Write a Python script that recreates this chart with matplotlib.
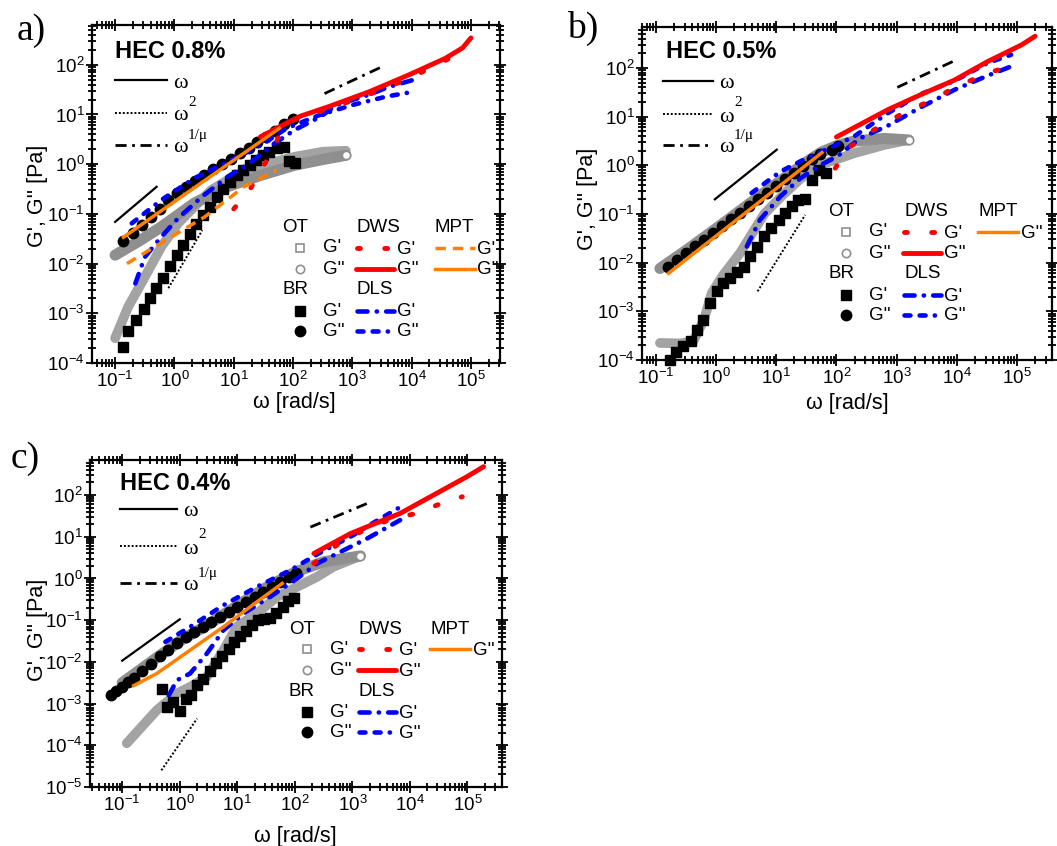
import numpy as np
import matplotlib
matplotlib.use("Agg")
import matplotlib.pyplot as plt
from matplotlib.lines import Line2D
from matplotlib.ticker import LogLocator, FixedLocator, NullFormatter

plt.rcParams['font.family'] = ['Liberation Sans', 'DejaVu Sans']
plt.rcParams['mathtext.fontset'] = 'custom'
plt.rcParams['mathtext.rm'] = 'Liberation Sans'
plt.rcParams['mathtext.it'] = 'Liberation Sans:italic'

W, H = 1057, 846

# ---------------- a) HEC 0.8% ----------------
a_ot_gp_w = [0.1, 0.166, 0.316, 0.603, 1.15, 2.19, 4.17, 7.94, 20.0, 50.1, 107, 316, 776]
a_ot_gp = [3.16e-4, 1.35e-3, 5.37e-3, 0.0219, 0.0646, 0.141, 0.302, 0.479, 0.794, 1.12, 1.41, 1.78, 1.86]
a_ot_gpp_w = [0.1, 0.251, 0.603, 2.19, 7.94, 29.5, 107, 339, 776]
a_ot_gpp = [0.0148, 0.0282, 0.055, 0.166, 0.355, 0.603, 0.955, 1.26, 1.51]
a_br_gp_w = [0.138, 0.166, 0.224, 0.302, 0.380, 0.490, 0.646, 0.832, 1.10, 1.41, 1.82, 2.34, 3.02, 3.98,
             5.13, 6.61, 8.51, 11.2, 14.5, 18.6, 24.0, 30.9, 39.8, 53.7, 69.2, 87.1, 107]
a_br_gp = [2.14e-4, 4.37e-4, 7.24e-4, 1.20e-3, 2.0e-3, 3.16e-3, 5.13e-3, 8.91e-3, 0.0148, 0.0234, 0.0389,
           0.0631, 0.0955, 0.138, 0.219, 0.316, 0.447, 0.603, 0.759, 0.955, 1.20, 1.55, 1.78, 2.09, 2.19, 1.17, 1.07]
a_br_gpp_w = [0.138, 0.2, 0.282, 0.398, 0.562, 0.794, 1.12, 1.58, 2.24, 3.16, 4.47, 6.31, 8.91, 12.6,
              17.8, 25.1, 35.5, 50.1, 70.8, 100]
a_br_gpp = [0.0282, 0.0417, 0.0603, 0.0871, 0.126, 0.186, 0.263, 0.355, 0.468, 0.617, 0.794, 1.0, 1.29,
            1.66, 2.14, 2.75, 3.55, 4.68, 6.31, 7.94]
a_mpt_gp_w = [0.158, 3.24, 15.1, 52.5]
a_mpt_gp = [0.01, 0.0871, 0.355, 0.759]
a_mpt_gpp_w = [0.138, 3.02, 58.9]
a_mpt_gpp = [0.0339, 0.443, 5.25]
a_dws_gp_w = [10, 18.6, 29.5, 45.7, 63.1, 100, 316, 1000, 3162, 10000, 31623, 51300, 100000]
a_dws_gp = [0.126, 0.302, 0.832, 1.78, 5.01, 7.59, 12.0, 19.1, 31.6, 56.2, 112, 148, 126]
a_dws_gpp_w = [28.2, 52.5, 129, 407, 1950, 9120, 37150, 72440, 100000]
a_dws_gpp = [3.55, 5.25, 9.12, 14.5, 28.8, 63.1, 135, 219, 347]
a_dls_gp_w = [0.219, 0.316, 0.603, 1.15, 2.88, 7.94, 20.0, 49.0, 107, 295, 537, 1950, 3981, 10965]
a_dls_gp = [3.98e-3, 0.0135, 0.0347, 0.0813, 0.219, 0.562, 1.12, 2.63, 4.90, 9.12, 15.5, 25.1, 35.5, 50.1]
a_dls_gpp_w = [0.191, 0.603, 2.19, 7.94, 29.5, 77.6, 282, 1000, 3715, 10965]
a_dls_gpp = [0.0646, 0.191, 0.525, 1.12, 2.45, 5.25, 9.77, 15.5, 22.9, 28.8]
a_s1_w, a_s1 = [0.1, 0.5], [0.069, 0.35]
a_s2_w, a_s2 = [0.79, 2.95], [3.2e-3, 0.047]
a_smu_w, a_smu = [339, 3020], [26.3, 89]

# ---------------- b) HEC 0.5% ----------------
b_ot_gp_w = [0.117, 0.251, 0.417, 0.631, 0.851, 1.32, 2.51, 3.98, 6.31, 12.6, 25.1, 50.1, 100, 200, 631, 1585]
b_ot_gp = [2.24e-4, 2.19e-4, 2.40e-4, 6.76e-4, 2.40e-3, 5.62e-3, 0.0158, 0.0398, 0.1, 0.24, 0.525, 1.0,
           1.32, 1.78, 2.63, 3.31]
b_ot_gpp_w = [0.117, 0.316, 1.0, 3.16, 10, 31.6, 56.2, 100, 200, 631, 1585]
b_ot_gpp = [7.59e-3, 0.0178, 0.0501, 0.145, 0.417, 1.17, 1.86, 2.51, 3.16, 3.55, 3.31]
b_br_gp_w = [0.17, 0.219, 0.282, 0.38, 0.479, 0.617, 0.794, 1.02, 1.32, 1.70, 2.24, 2.88, 3.72, 4.79,
             6.17, 8.32, 11.0, 14.1, 18.2, 23.4, 30.2, 39.8, 51.3, 66.1]
b_br_gp = [1.0e-4, 1.48e-4, 1.91e-4, 2.51e-4, 4.07e-4, 6.76e-4, 1.51e-3, 2.57e-3, 3.80e-3, 4.79e-3,
           6.31e-3, 8.32e-3, 0.0135, 0.0214, 0.0347, 0.0513, 0.0759, 0.107, 0.148, 0.195, 0.2, 0.501, 0.794, 0.708]
b_br_gpp_w = [0.158, 0.224, 0.316, 0.447, 0.631, 0.891, 1.26, 1.78, 2.51, 3.55, 5.01, 7.08, 10, 14.1,
              20.0, 28.2, 39.8, 52.5, 85.1, 105]
b_br_gpp = [8.32e-3, 0.0115, 0.0158, 0.0219, 0.0295, 0.0407, 0.0562, 0.0776, 0.105, 0.145, 0.2, 0.275,
            0.380, 0.513, 0.708, 0.977, 1.35, 1.74, 2.09, 2.51]
b_mpt_gpp_w = [0.162, 3.16, 57.5]
b_mpt_gpp = [6.03e-3, 0.108, 1.82]
b_dws_gp_w = [95.5, 158, 372, 794, 1698, 4169, 8511, 19950, 39810, 79430, 109600]
b_dws_gp = [0.871, 2.24, 4.90, 8.51, 14.1, 22.4, 38.0, 60.3, 85.1, 107, 120]
b_dws_gpp_w = [100, 708, 2512, 9120, 32360, 117500, 199500]
b_dws_gpp = [3.80, 13.8, 28.2, 56.2, 135, 295, 447]
b_dls_gp_w = [3.24, 5.37, 11.7, 25.1, 53.7, 102, 251, 708, 2512, 9120, 32360, 79430]
b_dls_gp = [0.0214, 0.0759, 0.229, 0.537, 1.0, 1.51, 3.63, 6.46, 15.5, 35.5, 69.2, 107]
b_dls_gpp_w = [3.89, 11.7, 41.7, 61.7, 195, 708, 2512, 9120, 32360, 79430]
b_dls_gpp = [0.269, 0.741, 1.66, 2.0, 3.89, 11.7, 29.0, 54.0, 126, 186]
b_s1_w, b_s1 = [0.955, 10.2], [0.2, 2.09]
b_s2_w, b_s2 = [4.9, 30.2], [2.57e-3, 0.0955]
b_smu_w, b_smu = [1023, 8511], [39.8, 135]

# ---------------- c) HEC 0.4% ----------------
c_ot_gp_w = [0.12, 0.398, 0.891, 1.51, 2.95, 5.75, 9.77, 21.9, 49.0, 110, 245, 468, 1380]
c_ot_gp = [1.12e-4, 6.92e-4, 1.74e-3, 2.51e-3, 4.37e-3, 0.0191, 0.0692, 0.145, 0.363, 0.631, 1.10, 1.91, 3.47]
c_ot_gpp_w = [0.1, 0.316, 1.0, 3.16, 10, 31.6, 100, 316, 1380]
c_ot_gpp = [3.16e-3, 0.01, 0.0316, 0.0794, 0.224, 0.603, 1.41, 2.51, 3.47]
c_br_gp_w = [0.49, 0.603, 0.776, 1.02, 1.26, 1.55, 2.0, 2.57, 3.31, 4.27, 5.50, 7.08, 8.91, 11.2, 14.1,
             18.2, 22.9, 28.8, 36.3, 47.9, 61.7, 75.9, 95.5]
c_br_gp = [2.29e-3, 8.32e-4, 1.10e-3, 6.76e-4, 1.32e-3, 1.58e-3, 2.75e-3, 3.98e-3, 6.03e-3, 9.33e-3,
           0.0141, 0.0209, 0.0302, 0.0417, 0.0562, 0.0759, 0.1, 0.105, 0.112, 0.151, 0.209, 0.282, 0.331]
c_br_gpp_w = [0.0631, 0.0794, 0.1, 0.126, 0.158, 0.224, 0.316, 0.447, 0.631, 0.891, 1.26, 1.78, 2.51,
              3.55, 5.01, 7.08, 10, 14.1, 20.0, 28.2, 39.8, 56.2, 79.4, 105]
c_br_gpp = [1.58e-3, 2.0e-3, 2.51e-3, 3.24e-3, 4.17e-3, 6.17e-3, 9.12e-3, 0.0135, 0.0195, 0.0288, 0.0398,
            0.0525, 0.0692, 0.0912, 0.120, 0.158, 0.209, 0.275, 0.363, 0.479, 0.631, 0.832, 1.10, 1.32]
c_mpt_gpp_w = [0.158, 0.398, 1.51, 5.75, 21.9, 60.3]
c_mpt_gpp = [2.69e-3, 5.25e-3, 0.0191, 0.0692, 0.275, 0.759]
c_dws_gp_w = [214, 537, 1585, 5012, 13180, 29510, 81280]
c_dws_gp = [2.29, 6.31, 14.5, 27.5, 36.3, 57.5, 91.2]
c_dws_gpp_w = [214, 933, 6761, 25700, 97700, 190500]
c_dws_gpp = [3.98, 12.0, 36.3, 100, 275, 479]
c_dls_gp_w = [0.646, 0.891, 1.51, 2.95, 5.75, 12.9, 37.2, 110, 245, 1820, 6761]
c_dls_gp = [1.58e-3, 3.63e-3, 5.25e-3, 0.0158, 0.0575, 0.145, 0.363, 1.0, 2.29, 9.12, 25.1]
c_dls_gpp_w = [0.562, 1.51, 5.75, 21.9, 83.2, 245, 1047, 1820, 7762]
c_dls_gpp = [0.0302, 0.0692, 0.229, 0.631, 1.58, 3.80, 11.0, 17.8, 57.5]
c_s1_w, c_s1 = [0.1, 1.0], [0.0107, 0.105]
c_s2_w, c_s2 = [0.479, 2.0], [2.51e-5, 4.37e-4]
c_smu_w, c_smu = [186, 1820], [17.0, 63.1]

RED, BLUE, ORANGE = '#ff0000', '#0000ff', '#ff8000'
GREY = '#8f8f8f'

fig = plt.figure(figsize=(W / 100, H / 100), dpi=100)


def fxy(px, py):
    return px / W, 1 - py / H


def add_axes(left, top, right, bottom):
    return fig.add_axes([left / W, 1 - bottom / H, (right - left) / W, (bottom - top) / H])


def decades(lo, hi):
    return [10.0 ** k for k in range(-8, 9) if lo <= 10.0 ** k <= hi]


def draw(ax, d, xlim, ylim):
    ax.set_xscale('log')
    ax.set_yscale('log')
    # OT (thick grey bands of overlapping open markers)
    ax.plot(d['ot_gp_w'], d['ot_gp'], color='#a3a3a3', lw=7, solid_capstyle='round', zorder=1)
    ax.plot(d['ot_gpp_w'], d['ot_gpp'], color=GREY, lw=8, solid_capstyle='round', zorder=1)
    ax.plot(d['ot_gpp_w'][-1:], d['ot_gpp'][-1:], 'o', ms=6, mfc='white', mec=GREY, mew=1.2, zorder=1.5)
    # BR
    ax.plot(d['br_gp_w'], d['br_gp'], 's', color='black', ms=6.8, zorder=2, clip_on=False)
    ax.plot(d['br_gpp_w'], d['br_gpp'], 'o', color='black', ms=7.5, zorder=2, clip_on=False)
    # DLS
    ax.plot(d['dls_gp_w'], d['dls_gp'], color=BLUE, lw=3.3, dashes=(2.2, 2.0, 0.05, 2.0),
            dash_capstyle='round', zorder=3)
    ax.plot(d['dls_gpp_w'], d['dls_gpp'], color=BLUE, lw=3.3, dashes=(1.3, 2.0, 1.3, 2.0, 0.05, 2.0),
            dash_capstyle='round', zorder=3)
    # DWS
    ax.plot(d['dws_gp_w'], d['dws_gp'], color=RED, lw=3.5, dashes=(0.6, 5), dash_capstyle='round', zorder=4)
    ax.plot(d['dws_gpp_w'], d['dws_gpp'], color=RED, lw=3.5, solid_capstyle='round', zorder=4)
    # MPT
    if 'mpt_gp' in d:
        ax.plot(d['mpt_gp_w'], d['mpt_gp'], color=ORANGE, lw=2.5, dashes=(3, 2), zorder=5)
    ax.plot(d['mpt_gpp_w'], d['mpt_gpp'], color=ORANGE, lw=2.5, zorder=5)
    # power-law guides
    ax.plot(d['s1_w'], d['s1'], color='black', lw=1.6, zorder=6)
    ax.plot(d['s2_w'], d['s2'], color='black', lw=1.4, linestyle=(0, (1, 1)), zorder=6)
    ax.plot(d['smu_w'], d['smu'], color='black', lw=2, dashes=(4, 2, 1, 2), zorder=6)

    ax.set_xlim(*xlim)
    ax.set_ylim(*ylim)
    ax.xaxis.set_major_locator(FixedLocator(decades(*xlim)))
    ax.yaxis.set_major_locator(FixedLocator(decades(*ylim)))
    for axis in (ax.xaxis, ax.yaxis):
        axis.set_minor_locator(LogLocator(base=10, subs=np.arange(2, 10), numticks=20))
        axis.set_minor_formatter(NullFormatter())
    ax.tick_params(which='both', direction='inout', top=True, right=True, width=1.3,
                   labelsize=13.5, pad=1)
    ax.tick_params(which='major', length=9)
    ax.tick_params(which='minor', length=5.5)
    for sp in ax.spines.values():
        sp.set_linewidth(1.6)


def kline(px0, px1, py, **kw):
    x0, y = fxy(px0, py)
    x1, _ = fxy(px1, py)
    fig.add_artist(Line2D([x0, x1], [y, y], transform=fig.transFigure, **kw))


def kmark(px, py, **kw):
    x, y = fxy(px, py)
    fig.add_artist(Line2D([x], [y], transform=fig.transFigure, linestyle='none', **kw))


def ktext(px, py, s, **kw):
    x, y = fxy(px, py)
    fig.text(x, y, s, ha=kw.pop('ha', 'left'), va=kw.pop('va', 'center'), **kw)


def key(x0, y0, col2=75, col3=152, mpt_gp=True):
    fs = 13.5
    rows = [0, 20, 41, 62, 83, 103]
    l0, l1 = x0 + col2 - 1, x0 + col2 + 37
    ktext(x0, y0 + rows[0], 'OT', fontsize=fs)
    ktext(x0 + col2, y0 + rows[0], 'DWS', fontsize=fs)
    ktext(x0 + col3, y0 + rows[0], 'MPT', fontsize=fs)
    ktext(x0, y0 + rows[3], 'BR', fontsize=fs)
    ktext(x0 + col2, y0 + rows[3], 'DLS', fontsize=fs)
    kmark(x0 + 18, y0 + rows[1], marker='s', ms=5.5, mfc='white', mec=GREY, mew=1.2)
    kmark(x0 + 18, y0 + rows[2], marker='o', ms=6, mfc='white', mec=GREY, mew=1.2)
    kmark(x0 + 18, y0 + rows[4], marker='s', ms=6.8, color='black')
    kmark(x0 + 18, y0 + rows[5], marker='o', ms=7.5, color='black')
    for r, lab in zip(rows[1:], ["G'", "G''", None, "G'", "G''"]):
        if lab:
            ktext(x0 + 41, y0 + r, lab, fontsize=fs)
            ktext(l1 + 3, y0 + r + 1, lab, fontsize=fs)
    kline(l0 + 1, l1, y0 + rows[1], color=RED, lw=3.5, dashes=(0.6, 5), dash_capstyle='round')
    kline(l0, l1, y0 + rows[2], color=RED, lw=3.5, solid_capstyle='round')
    kline(l0 + 1, l1, y0 + rows[4], color=BLUE, lw=3.3, dashes=(2.2, 2.0, 0.05, 2.0),
          dash_capstyle='round')
    kline(l0 + 1, l1, y0 + rows[5], color=BLUE, lw=3.3, dashes=(1.3, 2.0, 1.3, 2.0, 0.05, 2.0),
          dash_capstyle='round')
    m0, m1 = x0 + col3, x0 + col3 + 40
    if mpt_gp:
        kline(m0, m1, y0 + rows[1], color=ORANGE, lw=2.5, dashes=(3, 2))
        ktext(m1 + 2, y0 + rows[1] + 1, "G'", fontsize=fs)
        kline(m0, m1, y0 + rows[2], color=ORANGE, lw=2.5)
        ktext(m1 + 2, y0 + rows[2] + 1, "G''", fontsize=fs)
    else:
        kline(m0, m1, y0 + rows[1], color=ORANGE, lw=2.5)
        ktext(m1 + 3, y0 + rows[1] + 1, "G''", fontsize=fs)


def slope_key(x0, x1, ys):
    kline(x0, x1, ys[0], color='black', lw=1.6)
    kline(x0, x1, ys[1], color='black', lw=1.4, linestyle=(0, (1, 1)))
    kline(x0, x1, ys[2], color='black', lw=2, dashes=(4, 2, 1, 2))
    sf = ['Liberation Serif', 'DejaVu Serif']
    for y in ys:
        ktext(x1 + 6, y + 3, 'ω', fontsize=16, family=sf)
    ktext(x1 + 21, ys[1] - 11, '2', fontsize=11, family=sf)
    ktext(x1 + 21, ys[2] - 10, '1/μ', fontsize=11, family=sf)


def labels(title, tx, ty, ylx, yly, xlx, xly, letter, lx, ly):
    ktext(tx, ty, title, fontsize=17, fontweight='bold')
    ktext(ylx, yly, "G', G'' [Pa]", fontsize=15.5, rotation=90, ha='center')
    ktext(xlx, xly, 'ω [rad/s]', fontsize=15.5, ha='center')
    ktext(lx, ly, letter, fontsize=27, ha='center', family=['Liberation Serif', 'DejaVu Serif'])


# panel a
ax_a = add_axes(92, 25, 500, 363)
draw(ax_a, dict(ot_gp_w=a_ot_gp_w, ot_gp=a_ot_gp, ot_gpp_w=a_ot_gpp_w, ot_gpp=a_ot_gpp,
                br_gp_w=a_br_gp_w, br_gp=a_br_gp, br_gpp_w=a_br_gpp_w, br_gpp=a_br_gpp,
                mpt_gp_w=a_mpt_gp_w, mpt_gp=a_mpt_gp, mpt_gpp_w=a_mpt_gpp_w, mpt_gpp=a_mpt_gpp,
                dws_gp_w=a_dws_gp_w, dws_gp=a_dws_gp, dws_gpp_w=a_dws_gpp_w, dws_gpp=a_dws_gpp,
                dls_gp_w=a_dls_gp_w, dls_gp=a_dls_gp, dls_gpp_w=a_dls_gpp_w, dls_gpp=a_dls_gpp,
                s1_w=a_s1_w, s1=a_s1, s2_w=a_s2_w, s2=a_s2, smu_w=a_smu_w, smu=a_smu),
     (10 ** -1.39, 10 ** 5.49), (1e-4, 10 ** 2.8))
key(282, 228, col2=75, col3=153)
slope_key(115, 167, [80, 113, 145])
labels('HEC 0.8%', 115, 51, 37, 196, 294, 402, 'a)', 31, 31)

# panel b
ax_b = add_axes(642, 27, 1052, 360)
draw(ax_b, dict(ot_gp_w=b_ot_gp_w, ot_gp=b_ot_gp, ot_gpp_w=b_ot_gpp_w, ot_gpp=b_ot_gpp,
                br_gp_w=b_br_gp_w, br_gp=b_br_gp, br_gpp_w=b_br_gpp_w, br_gpp=b_br_gpp,
                mpt_gpp_w=b_mpt_gpp_w, mpt_gpp=b_mpt_gpp,
                dws_gp_w=b_dws_gp_w, dws_gp=b_dws_gp, dws_gpp_w=b_dws_gpp_w, dws_gpp=b_dws_gpp,
                dls_gp_w=b_dls_gp_w, dls_gp=b_dls_gp, dls_gpp_w=b_dls_gpp_w, dls_gpp=b_dls_gpp,
                s1_w=b_s1_w, s1=b_s1, s2_w=b_s2_w, s2=b_s2, smu_w=b_smu_w, smu=b_smu),
     (10 ** -1.23, 10 ** 5.58), (1e-4, 10 ** 2.84))
key(828, 212, col2=76, col3=150, mpt_gp=False)
slope_key(663, 713, [81, 114, 145])
labels('HEC 0.5%', 666, 51, 588, 199, 847, 403, 'b)', 583, 28)

# panel c
ax_c = add_axes(90, 460, 502, 787)
draw(ax_c, dict(ot_gp_w=c_ot_gp_w, ot_gp=c_ot_gp, ot_gpp_w=c_ot_gpp_w, ot_gpp=c_ot_gpp,
                br_gp_w=c_br_gp_w, br_gp=c_br_gp, br_gpp_w=c_br_gpp_w, br_gpp=c_br_gpp,
                mpt_gpp_w=c_mpt_gpp_w, mpt_gpp=c_mpt_gpp,
                dws_gp_w=c_dws_gp_w, dws_gp=c_dws_gp, dws_gpp_w=c_dws_gpp_w, dws_gpp=c_dws_gpp,
                dls_gp_w=c_dls_gp_w, dls_gp=c_dls_gp, dls_gpp_w=c_dls_gpp_w, dls_gpp=c_dls_gpp,
                s1_w=c_s1_w, s1=c_s1, s2_w=c_s2_w, s2=c_s2, smu_w=c_smu_w, smu=c_smu),
     (10 ** -1.56, 10 ** 5.6), (1e-5, 10 ** 2.84))
key(289, 629, col2=70, col3=141, mpt_gp=False)
slope_key(120, 177, [509, 546, 583])
labels('HEC 0.4%', 120, 483, 37, 630, 295, 836, 'c)', 25, 459)

fig.savefig('out.png', dpi=100)
